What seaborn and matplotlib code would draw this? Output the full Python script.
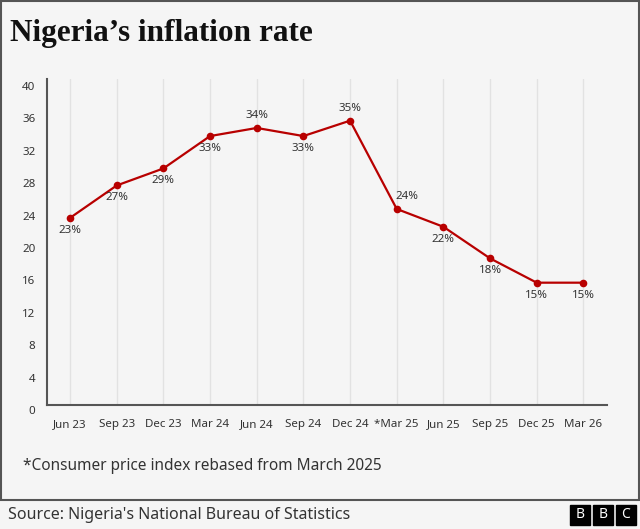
import matplotlib
matplotlib.use("Agg")
import matplotlib.pyplot as plt
import matplotlib.transforms as mtransforms
from matplotlib.patches import Rectangle
import seaborn as sns

# Datos
periodos = ["Jun 23", "Sep 23", "Dec 23", "Mar 24", "Jun 24", "Sep 24",
            "Dec 24", "*Mar 25", "Jun 25", "Sep 25", "Dec 25", "Mar 26"]
inflacion = [23.1, 27.1, 29.2, 33.2, 34.2, 33.2, 35.1, 24.2, 22.0, 18.1, 15.1, 15.1]
y_ticks = [0, 4, 8, 12, 16, 20, 24, 28, 32, 36, 40]

titulo = "Nigeria\u2019s inflation rate"
nota = "*Consumer price index rebased from March 2025"
fuente = "Source: Nigeria's National Bureau of Statistics"

# etiquetas que van encima del punto
encima = {"Jun 24", "Dec 24", "*Mar 25"}

bg = "#f5f5f5"
rojo = "#b80000"
gris_txt = "#333333"

sns.set_style("white", {"axes.facecolor": bg, "figure.facecolor": bg})
plt.rcParams["font.family"] = ["Noto Sans", "DejaVu Sans"]

fig = plt.figure(figsize=(6.4, 5.29), dpi=100)
ax = fig.add_axes([0.073, 0.2344, 0.875, 0.6156])

x = list(range(len(periodos)))
sns.lineplot(x=x, y=inflacion, ax=ax, color=rojo, linewidth=1.6,
             marker="o", markersize=5.5, markeredgewidth=0)

for i, (p, v) in enumerate(zip(periodos, inflacion)):
    if p in encima:
        dx = 10 if p == "*Mar 25" else 0
        ax.annotate(f"{v:.0f}%", (i, v), xytext=(dx, 7), textcoords="offset pixels",
                    ha="center", va="bottom", fontsize=8.3, color=gris_txt)
    else:
        ax.annotate(f"{v:.0f}%", (i, v), xytext=(0, -7), textcoords="offset pixels",
                    ha="center", va="top", fontsize=8.3, color=gris_txt)

ax.set_xlim(-0.5, len(periodos) - 0.5)
ax.set_ylim(0, 40.2)
ax.set_xticks(x)
ax.set_xticklabels(periodos)
ax.set_yticks(y_ticks)
ax.tick_params(axis="both", length=0, labelsize=8.3, labelcolor=gris_txt)
ax.tick_params(axis="x", pad=10)
ax.tick_params(axis="y", pad=8)

# etiquetas del eje y un poco más abajo
desplazar = mtransforms.ScaledTranslation(0, -5 / 100, fig.dpi_scale_trans)
for lab in ax.get_yticklabels():
    lab.set_transform(lab.get_transform() + desplazar)

ax.grid(axis="x", color="#e2e2e2", linewidth=1)
ax.grid(axis="y", visible=False)
sns.despine(ax=ax)
for s in ["left", "bottom"]:
    ax.spines[s].set_color("#555555")
    ax.spines[s].set_linewidth(1.5)

# Textos
fig.text(10 / 640, 1 - 33 / 529, titulo, fontsize=22.5, fontweight="bold",
         family="Liberation Serif", va="center", ha="left", color="#111111")
fig.text(23 / 640, 1 - 466 / 529, nota, fontsize=11.1, va="center", ha="left", color=gris_txt)
fig.text(8 / 640, 1 - 515 / 529, fuente, fontsize=11.5, va="center", ha="left", color=gris_txt)

# Marco
fig.patches.append(Rectangle((0.5 / 640, 1 - 500 / 529), 638 / 640, 499 / 529,
                             transform=fig.transFigure, fill=False,
                             edgecolor="#555555", linewidth=1.5))

# Logo BBC
for k, letra in enumerate("BBC"):
    x0 = 570 + k * 23
    fig.patches.append(Rectangle((x0 / 640, 1 - 525 / 529), 20 / 640, 20 / 529,
                                 transform=fig.transFigure, color="black"))
    fig.text((x0 + 10) / 640, 1 - 515 / 529, letra, color="white", fontsize=10,
             fontweight="bold", ha="center", va="center")

fig.savefig("out.png", dpi=100, facecolor=bg)
